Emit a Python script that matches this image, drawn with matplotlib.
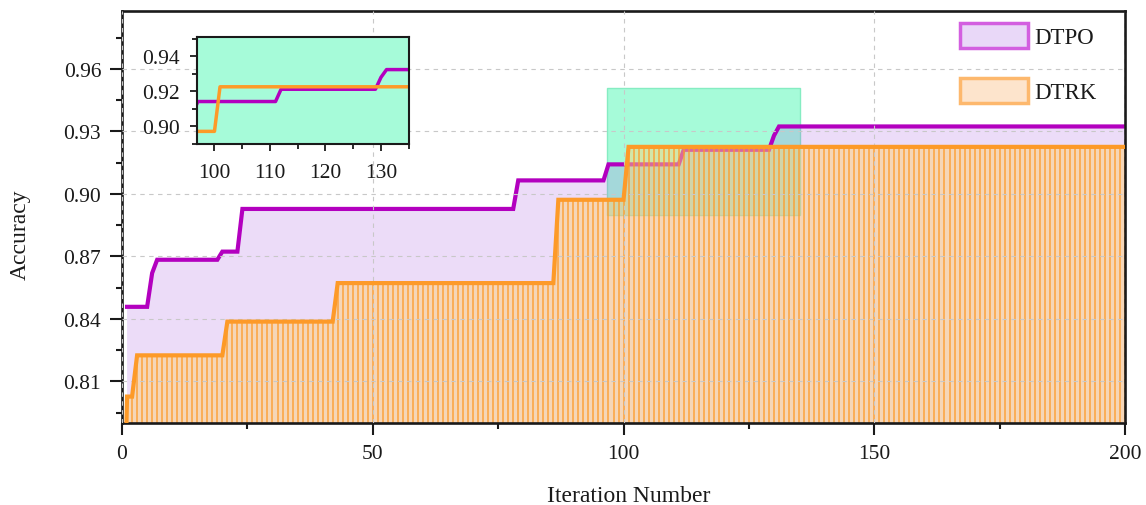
import numpy as np
import matplotlib
matplotlib.use("Agg")
import matplotlib.pyplot as plt
from matplotlib.patches import Patch, Rectangle
from matplotlib.ticker import MultipleLocator

# ---------------- data (step levels + run lengths) ----
# DTPO: iterations 1..200
dtpo_levels = [0.8458, 0.862, 0.8684, 0.8723, 0.8928, 0.9065, 0.9142, 0.9212, 0.928, 0.9324]
dtpo_runs = [5, 1, 13, 4, 55, 18, 15, 18, 1, 70]
# DTRK: iterations 0..200
dtrk_levels = [0.70, 0.8027, 0.8225, 0.8387, 0.8572, 0.8972, 0.9226]
dtrk_runs = [1, 2, 18, 22, 44, 14, 100]

series_names = ["DTPO", "DTRK"]
x_ticks = [0, 50, 100, 150, 200]
y_ticks = [0.81, 0.84, 0.87, 0.90, 0.93, 0.96]
inset_x_ticks = [100, 110, 120, 130]
inset_y_ticks = [0.90, 0.92, 0.94]

dtpo = np.repeat(dtpo_levels, dtpo_runs)
dtrk = np.repeat(dtrk_levels, dtrk_runs)
x_dtpo = np.arange(1, 1 + len(dtpo))
x_dtrk = np.arange(0, len(dtrk))

# ---------------- style ----------------
plt.rcParams['font.family'] = ['Liberation Serif', 'DejaVu Serif']
TXT = '#1a1a1a'
PURPLE = '#b300bf'
ORANGE = '#fd9a28'
LAV = '#a050e0'
GREEN = '#a6fbd9'

fig = plt.figure(figsize=(11.46, 5.06), dpi=100)
ax = fig.add_axes([0.1065, 0.162, 0.8752, 0.8137])

xlim = (0, 200)
ylim = (0.79, 0.9877)
ins_xlim = (96.8, 135.1)
ins_ylim = (0.89, 0.9508)

# zoom rectangle
ax.add_patch(Rectangle((ins_xlim[0], ins_ylim[0]), ins_xlim[1] - ins_xlim[0],
                       ins_ylim[1] - ins_ylim[0], facecolor=GREEN,
                       edgecolor='#86ecc2', lw=1.0, zorder=0.8))

# fills
ax.fill_between(x_dtpo, 0, dtpo, color=LAV, alpha=0.2, lw=0, zorder=1)
ax.fill_between(x_dtrk, 0, dtrk, color='#ffd279', alpha=0.5, lw=0, zorder=2.1)
ax.plot(x_dtpo, dtpo, color=PURPLE, lw=3.0, zorder=2.0, solid_joinstyle='miter')
ax.vlines(x_dtrk, 0, dtrk, color=ORANGE, lw=1.1, alpha=0.85, zorder=2.2)
ax.plot(x_dtrk, dtrk, color=ORANGE, lw=3.0, zorder=4, solid_joinstyle='miter')

ax.set_xlim(*xlim)
ax.set_ylim(*ylim)
ax.set_xticks(x_ticks)
ax.set_xticklabels([str(v) for v in x_ticks])
ax.set_yticks(y_ticks)
ax.set_yticklabels([f"{v:.2f}" for v in y_ticks])
ax.xaxis.set_minor_locator(MultipleLocator(25))
ax.yaxis.set_minor_locator(MultipleLocator(0.015))
ax.tick_params(which='major', direction='out', length=8.5, width=1.5, labelsize=15.5,
               colors=TXT, pad=6.5)
ax.tick_params(which='minor', direction='out', length=4.5, width=1.5, colors=TXT)
ax.tick_params(top=False, right=False)
for s in ax.spines.values():
    s.set_linewidth(1.9)
    s.set_color(TXT)

ax.set_axisbelow(False)
ax.grid(True, which='major', color='#c8c8c8', linestyle=(0, (4, 4)), lw=0.8)

ax.set_xlabel("Iteration Number", fontsize=17, color=TXT, va='center', ha='center')
ax.set_ylabel("Accuracy", fontsize=17, color=TXT, va='center', ha='center')
ax.xaxis.set_label_coords(0.505, -0.175)
ax.yaxis.set_label_coords(-0.1017, 0.459)

# legend
handles = [Patch(facecolor='#e9d8f8', edgecolor='#d35fe0', lw=2.5),
           Patch(facecolor='#fde4cc', edgecolor='#fdb86d', lw=2.5)]
leg = ax.legend(handles, series_names, loc='upper left',
                bbox_to_anchor=(960 / 1146, 1 - 24 / 506), bbox_transform=fig.transFigure,
                frameon=False, fontsize=16.5, handlelength=2.95, handleheight=1.3,
                handletextpad=0.3, labelspacing=1.3, borderpad=0, borderaxespad=0)
for t in leg.get_texts():
    t.set_color(TXT)

# inset
ins = fig.add_axes([196.7 / 1146, 1 - 145 / 506, 212.6 / 1146, 106.7 / 506])
ins.set_facecolor(GREEN)
ins.plot(x_dtpo, dtpo, color=PURPLE, lw=2.5)
ins.plot(x_dtrk, dtrk, color=ORANGE, lw=2.5)
ins.set_xlim(*ins_xlim)
ins.set_ylim(*ins_ylim)
ins.set_xticks(inset_x_ticks)
ins.set_xticklabels([str(v) for v in inset_x_ticks])
ins.set_yticks(inset_y_ticks)
ins.set_yticklabels([f"{v:.2f}" for v in inset_y_ticks])
ins.xaxis.set_minor_locator(MultipleLocator(5))
ins.yaxis.set_minor_locator(MultipleLocator(0.01))
ins.tick_params(which='major', direction='out', length=5, width=1.3, labelsize=15.5,
                colors=TXT, pad=7)
ins.tick_params(axis='x', which='major', pad=9)
ins.tick_params(which='minor', direction='out', length=3.5, width=1.3, colors=TXT)
for s in ins.spines.values():
    s.set_linewidth(1.5)
    s.set_color(TXT)

fig.savefig("out.png", dpi=100)
